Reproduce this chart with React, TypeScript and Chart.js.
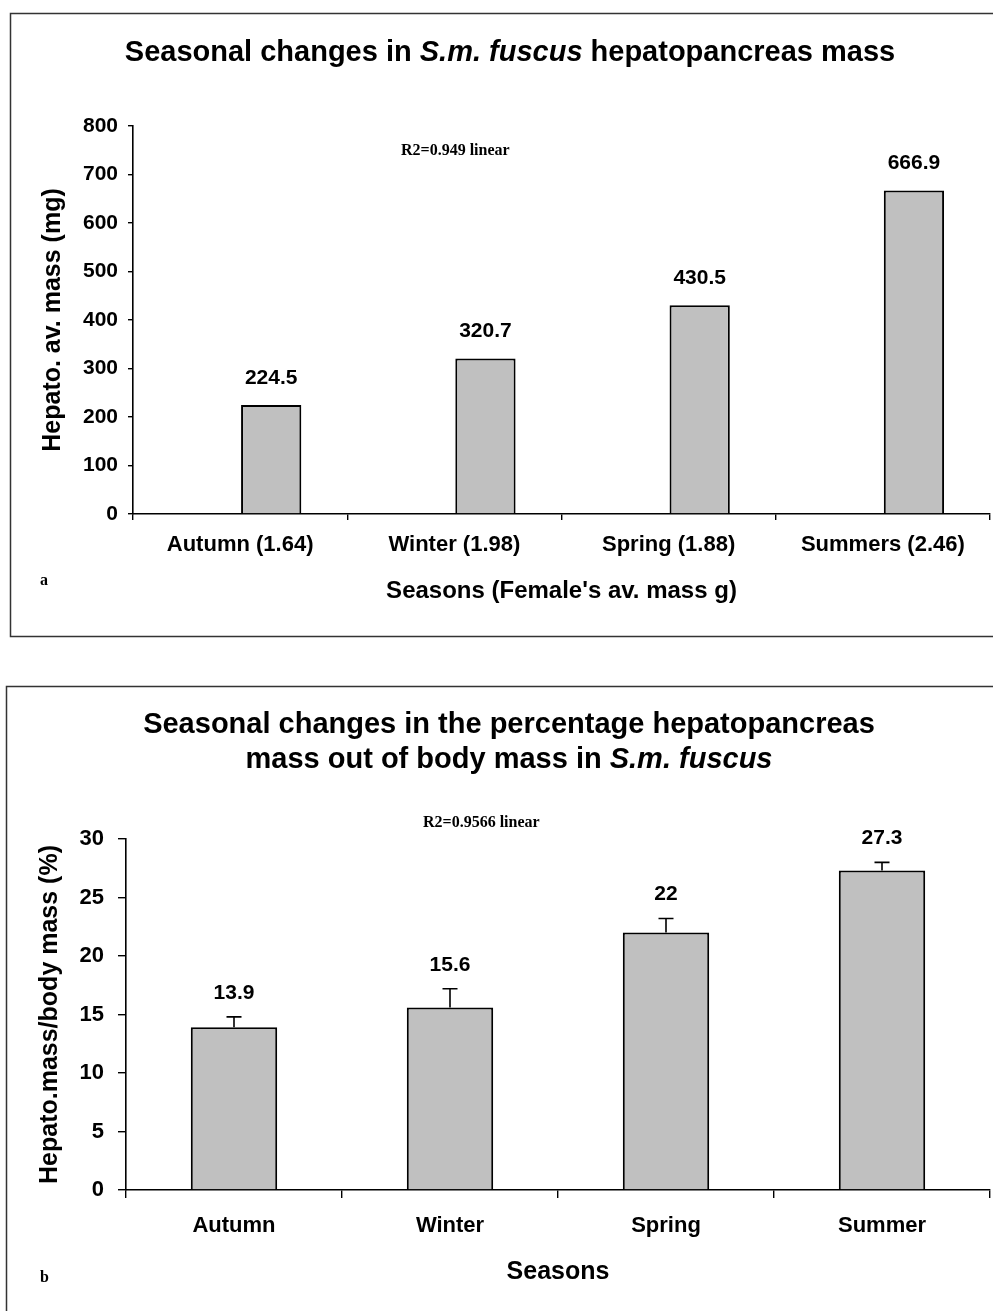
import React, { useEffect, useRef } from "react";
import { Chart, registerables } from "chart.js";

Chart.register(...registerables);

const SANS = '"Liberation Sans", Arial, Helvetica, sans-serif';
const SERIF = '"Liberation Serif", "Times New Roman", serif';

// ---- Data (panel a) ----
const massCategories = ["Autumn (1.64)", "Winter (1.98)", "Spring (1.88)", "Summers (2.46)"];
const massValues = [224.5, 320.7, 430.5, 666.9];
const massAxis = [0, 800, 100]; // min, max, step

// ---- Data (panel b) ----
const pctCategories = ["Autumn", "Winter", "Spring", "Summer"];
const pctValues = [13.9, 15.6, 22, 27.3];
const pctErrors = [0.9, 1.6, 1.2, 0.7];
const pctAxis = [0, 30, 5];

type Seg = { text: string; italic?: boolean };

const titleA: Seg[][] = [
  [
    { text: "Seasonal changes in " },
    { text: "S.m. fuscus", italic: true },
    { text: " hepatopancreas mass" },
  ],
];
const titleB: Seg[][] = [
  [{ text: "Seasonal changes in the percentage hepatopancreas" }],
  [{ text: "mass out of body mass in " }, { text: "S.m. fuscus", italic: true }],
];

function makeDecor(cfg: {
  frame: [number, number, number, number];
  title: Seg[][];
  titleX: number;
  titleBaselines: number[];
  titleSize: number;
  r2: string;
  r2X: number;
  r2Y: number;
  letter: string;
  letterX: number;
  letterY: number;
  errors?: number[];
  labelGap: number;
  labelSize: number;
}) {
  return {
    id: "decor",
    afterDatasetsDraw(chart: any) {
      const ctx = chart.ctx as CanvasRenderingContext2D;
      const ys = chart.scales.y;
      ctx.save();
      chart.data.datasets.forEach((ds: any, di: number) => {
        const meta = chart.getDatasetMeta(di);
        meta.data.forEach((bar: any, i: number) => {
          const v = ds.data[i];
          if (v == null) return;
          const err = cfg.errors ? cfg.errors[i] : 0;
          const topPx = ys.getPixelForValue(v + err);
          if (err) {
            ctx.strokeStyle = "#000";
            ctx.lineWidth = 1.6;
            ctx.beginPath();
            ctx.moveTo(bar.x, bar.y);
            ctx.lineTo(bar.x, topPx);
            ctx.moveTo(bar.x - 7.5, topPx);
            ctx.lineTo(bar.x + 7.5, topPx);
            ctx.stroke();
          }
          ctx.fillStyle = "#000";
          ctx.font = `bold ${cfg.labelSize}px ${SANS}`;
          ctx.textAlign = "center";
          ctx.textBaseline = "middle";
          ctx.fillText(String(v), bar.x, topPx - cfg.labelGap);
        });
      });
      ctx.restore();
    },
    afterDraw(chart: any) {
      const ctx = chart.ctx as CanvasRenderingContext2D;
      ctx.save();
      // frame
      ctx.strokeStyle = "#333";
      ctx.lineWidth = 1.5;
      const [fx, fy, fw, fh] = cfg.frame;
      ctx.strokeRect(fx, fy, fw, fh);
      // title
      ctx.fillStyle = "#000";
      ctx.textBaseline = "alphabetic";
      ctx.textAlign = "left";
      cfg.title.forEach((line, li) => {
        const fonts = line.map(
          (s) => `${s.italic ? "italic " : ""}bold ${cfg.titleSize}px ${SANS}`
        );
        let total = 0;
        line.forEach((s, k) => {
          ctx.font = fonts[k];
          total += ctx.measureText(s.text).width;
        });
        let x = cfg.titleX - total / 2;
        line.forEach((s, k) => {
          ctx.font = fonts[k];
          ctx.fillText(s.text, x, cfg.titleBaselines[li]);
          x += ctx.measureText(s.text).width;
        });
      });
      // R2 annotation
      ctx.font = `bold 16px ${SERIF}`;
      ctx.fillText(cfg.r2, cfg.r2X, cfg.r2Y);
      // panel letter
      ctx.fillText(cfg.letter, cfg.letterX, cfg.letterY);
      ctx.restore();
    },
  };
}

function axisCommon(size: number, tickLen: number, pad: number) {
  return {
    grid: {
      display: true,
      drawOnChartArea: false,
      drawTicks: true,
      tickLength: tickLen,
      color: "#000",
      lineWidth: 1.4,
    },
    border: { display: true, color: "#000", width: 1.6 },
    ticks: {
      color: "#000",
      font: { family: SANS, size, weight: "bold" as const },
      padding: pad,
      maxRotation: 0,
      autoSkip: false,
    },
  };
}

function PanelA() {
  const ref = useRef<HTMLCanvasElement>(null);
  useEffect(() => {
    if (!ref.current) return;
    const xBase = axisCommon(22, 6, 12);
    const yBase = axisCommon(21, 5, 10);
    const chart = new Chart(ref.current, {
      type: "bar",
      data: {
        labels: massCategories,
        datasets: [
          {
            data: massCategories.map(() => null),
            backgroundColor: "#C0C0C0",
            borderColor: "#000",
            borderWidth: 2,
          },
          {
            data: massValues,
            backgroundColor: "#C0C0C0",
            borderColor: "#000",
            borderWidth: 2,
          },
        ],
      },
      options: {
        responsive: false,
        animation: false,
        categoryPercentage: 0.58,
        barPercentage: 0.97,
        layout: { padding: { top: 126, right: 3, left: 0, bottom: 0 } },
        plugins: {
          legend: { display: false },
          tooltip: { enabled: false },
          title: { display: false },
        },
        scales: {
          x: {
            ...xBase,
            grid: { ...xBase.grid, offset: true },
            title: {
              display: true,
              text: "Seasons (Female's av. mass g)",
              color: "#000",
              font: { family: SANS, size: 24, weight: "bold" },
              padding: { top: 0, bottom: 44 },
            },
            afterFit: (s: any) => {
              s.height = 136;
            },
          },
          y: {
            ...yBase,
            min: massAxis[0],
            max: massAxis[1],
            ticks: { ...yBase.ticks, stepSize: massAxis[2] },
            title: {
              display: true,
              text: "Hepato. av. mass (mg)",
              color: "#000",
              font: { family: SANS, size: 25, weight: "bold" },
              padding: { top: 38, bottom: 0 },
            },
            afterFit: (s: any) => {
              s.width = 133;
            },
          },
        },
      } as any,
      plugins: [
        makeDecor({
          frame: [10.5, 13.5, 1200, 623],
          title: titleA,
          titleX: 510,
          titleBaselines: [61],
          titleSize: 29,
          r2: "R2=0.949 linear",
          r2X: 401,
          r2Y: 155,
          letter: "a",
          letterX: 40,
          letterY: 585,
          labelGap: 27,
          labelSize: 21,
        }),
      ],
    });
    return () => chart.destroy();
  }, []);
  return (
    <canvas
      ref={ref}
      width={993}
      height={650}
      style={{ position: "absolute", left: 0, top: 0, display: "block" }}
    />
  );
}

function PanelB() {
  const ref = useRef<HTMLCanvasElement>(null);
  useEffect(() => {
    if (!ref.current) return;
    const xBase = axisCommon(22, 8, 15);
    const yBase = axisCommon(22, 8, 14);
    const chart = new Chart(ref.current, {
      type: "bar",
      data: {
        labels: pctCategories,
        datasets: [
          {
            data: pctValues,
            backgroundColor: "#C0C0C0",
            borderColor: "#000",
            borderWidth: 2,
          },
        ],
      },
      options: {
        responsive: false,
        animation: false,
        categoryPercentage: 0.4,
        barPercentage: 1,
        layout: { padding: { top: 189, right: 3, left: 0, bottom: 0 } },
        plugins: {
          legend: { display: false },
          tooltip: { enabled: false },
          title: { display: false },
        },
        scales: {
          x: {
            ...xBase,
            grid: { ...xBase.grid, offset: true },
            title: {
              display: true,
              text: "Seasons",
              color: "#000",
              font: { family: SANS, size: 25, weight: "bold" },
              padding: { top: 0, bottom: 24 },
            },
            afterFit: (s: any) => {
              s.height = 121;
            },
          },
          y: {
            ...yBase,
            min: pctAxis[0],
            max: pctAxis[1],
            ticks: { ...yBase.ticks, stepSize: pctAxis[2] },
            title: {
              display: true,
              text: "Hepato.mass/body mass (%)",
              color: "#000",
              font: { family: SANS, size: 25, weight: "bold" },
              padding: { top: 35, bottom: 0 },
            },
            afterFit: (s: any) => {
              s.width = 126;
            },
          },
        },
      } as any,
      plugins: [
        makeDecor({
          frame: [6.5, 36.5, 1200, 1000],
          title: titleB,
          titleX: 509,
          titleBaselines: [83, 118],
          titleSize: 29,
          r2: "R2=0.9566 linear",
          r2X: 423,
          r2Y: 177,
          letter: "b",
          letterX: 40,
          letterY: 632,
          errors: pctErrors,
          labelGap: 24,
          labelSize: 21,
        }),
      ],
    });
    return () => chart.destroy();
  }, []);
  return (
    <canvas
      ref={ref}
      width={993}
      height={661}
      style={{ position: "absolute", left: 0, top: 650, display: "block" }}
    />
  );
}

export default function App() {
  useEffect(() => {
    document.body.style.overflow = "hidden";
  }, []);
  return (
    <div
      style={{
        position: "absolute",
        left: 0,
        top: 0,
        width: 993,
        height: 1311,
        overflow: "hidden",
        background: "#fff",
      }}
    >
      <PanelA />
      <PanelB />
    </div>
  );
}
